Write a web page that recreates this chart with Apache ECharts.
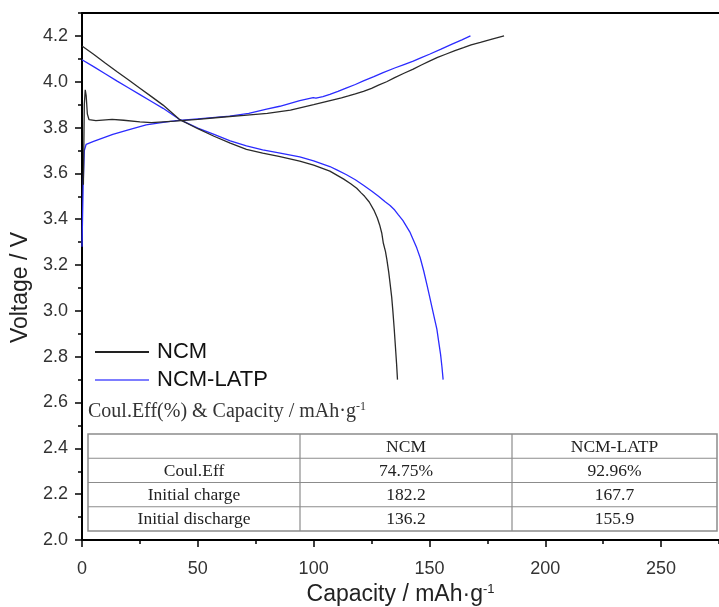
<!DOCTYPE html>
<html><head><meta charset="utf-8">
<script src="https://cdn.jsdelivr.net/npm/echarts@6/dist/echarts.min.js"></script>
<style>html,body{margin:0;padding:0;background:#fff}#c{width:719px;height:607px}</style>
</head><body><div id="c"></div>
<script>
// ---- data (capacity mAh/g, voltage V) ----
const ncmChargeCap = [0.6, 1.0, 1.4, 1.8, 2.3, 3, 6, 13, 18, 25, 30, 40, 50, 60, 70, 80, 90, 100, 104, 108, 112, 115, 118, 121.5, 125, 128, 131.5, 135, 139, 143, 146.5, 150, 153.5, 157, 161, 164.7, 168, 172, 177, 182.2];
const ncmChargeV   = [3.55, 3.90, 3.965, 3.94, 3.86, 3.835, 3.830, 3.836, 3.832, 3.825, 3.822, 3.828, 3.836, 3.845, 3.853, 3.862, 3.876, 3.900, 3.910, 3.920, 3.930, 3.938, 3.947, 3.958, 3.971, 3.985, 4.000, 4.018, 4.037, 4.055, 4.073, 4.090, 4.106, 4.120, 4.136, 4.149, 4.161, 4.172, 4.186, 4.200];

const ncmDisCap = [0, 5, 10, 15, 20, 25, 30, 35, 42, 50, 57, 64, 71, 78, 85, 94, 100, 107, 113, 116, 118.6, 120.5, 122, 124, 126, 127.5, 128.5, 129.4, 130.1, 131, 131.6, 132.4, 133, 133.7, 134.2, 134.8, 135.2, 135.8, 136.2];
const ncmDisV   = [4.156, 4.12, 4.082, 4.045, 4.009, 3.972, 3.935, 3.898, 3.836, 3.795, 3.762, 3.732, 3.705, 3.688, 3.674, 3.654, 3.636, 3.61, 3.575, 3.555, 3.535, 3.515, 3.50, 3.475, 3.44, 3.405, 3.375, 3.34, 3.295, 3.26, 3.225, 3.17, 3.12, 3.06, 3.0, 2.92, 2.86, 2.77, 2.70];

const latpChargeCap = [0, 0.5, 1.0, 1.8, 5, 13.3, 20, 27.7, 35, 40.7, 50, 63.8, 72, 79.7, 85.4, 94, 99.8, 101, 104, 107, 110.5, 114, 118, 121.5, 126, 130, 135, 139, 143, 146.5, 150, 155, 160, 164, 167.7];
const latpChargeV   = [3.28, 3.55, 3.70, 3.727, 3.74, 3.77, 3.79, 3.812, 3.823, 3.83, 3.838, 3.85, 3.862, 3.88, 3.893, 3.918, 3.931, 3.928, 3.935, 3.945, 3.958, 3.972, 3.988, 4.004, 4.022, 4.04, 4.06, 4.075, 4.09, 4.105, 4.12, 4.142, 4.165, 4.183, 4.20];

const latpDisCap = [0, 5, 10, 15, 20, 25, 30, 35, 42, 50, 57, 64, 71, 78, 85, 94, 100, 107, 110, 114, 118, 121.5, 125, 128, 131, 133, 135, 136.5, 138.5, 140, 141.5, 143, 144.5, 146, 147.5, 149, 150, 151, 152.2, 153.2, 154, 154.8, 155.4, 155.9];
const latpDisV   = [4.096, 4.066, 4.035, 4.004, 3.974, 3.944, 3.914, 3.884, 3.836, 3.798, 3.77, 3.742, 3.72, 3.703, 3.69, 3.672, 3.655, 3.63, 3.615, 3.595, 3.572, 3.548, 3.523, 3.50, 3.475, 3.46, 3.44, 3.42, 3.395, 3.37, 3.345, 3.31, 3.275, 3.232, 3.175, 3.11, 3.065, 3.02, 2.965, 2.92, 2.865, 2.81, 2.755, 2.70];

const seriesNames = ['NCM', 'NCM-LATP'];
const tableTitle = 'Coul.Eff(%) & Capacity / mAh·g';
const tableHeader = ['', 'NCM', 'NCM-LATP'];
const tableRows = [
  ['Coul.Eff', '74.75%', '92.96%'],
  ['Initial charge', '182.2', '167.7'],
  ['Initial discharge', '136.2', '155.9']
];

// ---- chart ----
function zip(a, b) { return a.map((x, i) => [x, b[i]]); }
const sans = 'Liberation Sans, Arial, sans-serif';
const serif = 'Liberation Serif, Times New Roman, serif';
const black = '#2a2a2a', blue = '#2b2bff';

// table layout
const tLeft = 88, tRight = 717, tTop = 434, rowH = 24.25;
const colX = [88, 300, 512, 717];
const gfx = [];
gfx.push({ type: 'text', left: 88, top: 401, style: { text: '{m|' + tableTitle + '}{s|-1}', rich: { m: { fontFamily: serif, fontSize: 20, fill: '#333' }, s: { fontFamily: serif, fontSize: 12, fill: '#333', verticalAlign: 'top', padding: [0, 0, 10, 0] } } } });
const nRows = tableRows.length + 1;
const lineCol = '#8c8c8c';
gfx.push({ type: 'rect', shape: { x: tLeft, y: tTop, width: tRight - tLeft, height: rowH * nRows }, style: { fill: 'none', stroke: lineCol, lineWidth: 1.5 } });
for (let r = 1; r < nRows; r++) {
  gfx.push({ type: 'line', shape: { x1: tLeft, y1: tTop + r * rowH, x2: tRight, y2: tTop + r * rowH }, style: { stroke: lineCol, lineWidth: 1.2 } });
}
for (let c = 1; c < colX.length - 1; c++) {
  gfx.push({ type: 'line', shape: { x1: colX[c], y1: tTop, x2: colX[c], y2: tTop + rowH * nRows }, style: { stroke: lineCol, lineWidth: 1.2 } });
}
const allRows = [tableHeader].concat(tableRows);
allRows.forEach((row, r) => {
  row.forEach((txt, c) => {
    if (!txt) return;
    gfx.push({ type: 'text', x: (colX[c] + colX[c + 1]) / 2, y: tTop + r * rowH + rowH / 2 + 1,
      style: { text: txt, fontFamily: serif, fontSize: 17.5, fill: '#222', align: 'center', verticalAlign: 'middle' } });
  });
});

const tickStyle = { color: '#000', width: 1.5 };
const lineCommon = { type: 'line', showSymbol: false, symbol: 'none', smooth: false };
const option = {
  animation: false,
  backgroundColor: '#fff',
  grid: { left: 82, right: 0, top: 13, bottom: 67, containLabel: false, outerBoundsMode: 'none' },
  legend: {
    left: 90, top: 336, orient: 'vertical', itemWidth: 54, itemHeight: 2, itemGap: 6, icon: 'rect', selectedMode: false,
    data: [{ name: seriesNames[0], itemStyle: { color: '#222' } }, { name: seriesNames[1], itemStyle: { color: '#7d7dff' } }],
    textStyle: { fontSize: 22, color: '#111', fontFamily: sans, lineHeight: 22, padding: [0, 0, 0, 3] }
  },
  xAxis: [
    { type: 'value', min: 0, max: 275, interval: 50, position: 'bottom',
      axisLine: { show: true, onZero: false, lineStyle: { color: '#000', width: 2 } },
      axisTick: { show: true, inside: false, length: 7, lineStyle: tickStyle },
      axisLabel: { margin: 20, fontSize: 18, color: '#333', fontFamily: sans, showMaxLabel: false },
      splitLine: { show: false },
      name: '{m|Capacity / mAh·g}{s|-1}', nameLocation: 'middle', nameGap: 42,
      nameTextStyle: { rich: { m: { fontSize: 23, fontFamily: sans, color: '#222' }, s: { fontSize: 13, fontFamily: sans, color: '#222', verticalAlign: 'top', padding: [0, 0, 11, 0] } } } },
    { type: 'value', min: 0, max: 275, interval: 25, position: 'bottom',
      axisLine: { show: false }, axisTick: { show: true, inside: false, length: 4, lineStyle: tickStyle },
      axisLabel: { show: false }, splitLine: { show: false } },
    { type: 'value', min: 0, max: 275, position: 'top',
      axisLine: { show: true, onZero: false, lineStyle: { color: '#000', width: 2 } }, axisTick: { show: false },
      axisLabel: { show: false }, splitLine: { show: false } }
  ],
  yAxis: [
    { type: 'value', min: 2.0, max: 4.3, interval: 0.2, position: 'left',
      axisLine: { show: true, onZero: false, lineStyle: { color: '#000', width: 2 } },
      axisTick: { show: true, inside: false, length: 7, lineStyle: tickStyle },
      axisLabel: { margin: 14, fontSize: 18, color: '#333', fontFamily: sans, showMaxLabel: false, formatter: v => v.toFixed(1) },
      splitLine: { show: false },
      name: 'Voltage / V', nameLocation: 'middle', nameGap: 49,
      nameTextStyle: { fontSize: 23, fontFamily: sans, color: '#222', padding: [0, 22, 0, 0] } },
    { type: 'value', min: 2.0, max: 4.3, interval: 0.1, position: 'left',
      axisLine: { show: false }, axisTick: { show: true, inside: false, length: 4, lineStyle: tickStyle },
      axisLabel: { show: false }, splitLine: { show: false } }
  ],
  series: [
    Object.assign({ name: seriesNames[0], data: zip(ncmChargeCap, ncmChargeV), lineStyle: { color: black, width: 1.3 }, itemStyle: { color: black }, z: 3 }, lineCommon),
    Object.assign({ name: seriesNames[0], data: zip(ncmDisCap, ncmDisV), lineStyle: { color: black, width: 1.3 }, itemStyle: { color: black }, z: 3 }, lineCommon),
    Object.assign({ name: seriesNames[1], data: zip(latpChargeCap, latpChargeV), lineStyle: { color: blue, width: 1.3 }, itemStyle: { color: blue }, z: 2 }, lineCommon),
    Object.assign({ name: seriesNames[1], data: zip(latpDisCap, latpDisV), lineStyle: { color: blue, width: 1.3 }, itemStyle: { color: blue }, z: 2 }, lineCommon)
  ],
  graphic: gfx
};
const chart = echarts.init(document.getElementById('c'), null, { renderer: 'canvas' });
chart.setOption(option);
</script>
</body></html>
